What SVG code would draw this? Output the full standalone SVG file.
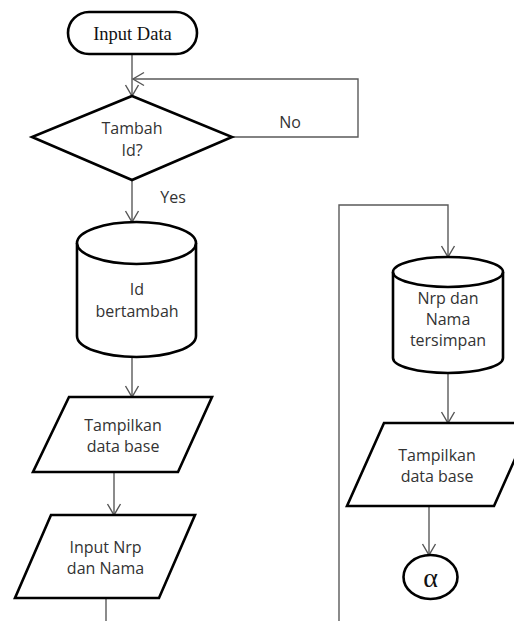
<svg xmlns="http://www.w3.org/2000/svg" width="514" height="621" viewBox="0 0 514 621">
  <defs>
    <marker id="arrow" markerUnits="userSpaceOnUse" markerWidth="16" markerHeight="16" viewBox="-12 -8 14 16" refX="0" refY="0" orient="auto">
      <path d="M-11,-6.5 L0,0 L-11,6.5" fill="none" stroke="#555" stroke-width="1.4"/>
    </marker>
    <style>
      .shape { fill: #fff; stroke: #000; stroke-width: 2.6; stroke-linejoin: miter; }
      .conn { fill: none; stroke: #5a5a5a; stroke-width: 1.4; }
      .lbl { font-family: "Open Sans", "Liberation Sans", sans-serif; font-size: 16px; fill: #333; text-anchor: middle; }
      .serif { font-family: "Liberation Serif", "Times New Roman", serif; fill: #111; text-anchor: middle; }
    </style>
  </defs>

  <rect width="514" height="621" fill="#fff"/>

  <!-- connectors -->
  <g id="connectors">
    <path class="conn" d="M132,54 L132,96" marker-end="url(#arrow)"/>
    <path class="conn" d="M232,137 L358,137 L358,79 L133,79" marker-end="url(#arrow)"/>
    <path class="conn" d="M132,180 L132,222" marker-end="url(#arrow)"/>
    <path class="conn" d="M132,357 L132,397" marker-end="url(#arrow)"/>
    <path class="conn" d="M114,472 L114,515" marker-end="url(#arrow)"/>
    <path class="conn" d="M106,598 L106,621"/>
    <path class="conn" d="M339,621 L339,205 L448,205 L448,257" marker-end="url(#arrow)"/>
    <path class="conn" d="M448,373 L448,423" marker-end="url(#arrow)"/>
    <path class="conn" d="M429,506 L429,555" marker-end="url(#arrow)"/>
    <text class="lbl" x="290" y="128">No</text>
    <text class="lbl" x="173" y="203">Yes</text>
  </g>

  <!-- start terminal -->
  <g id="input-data">
    <rect class="shape" x="68" y="12" width="129" height="42" rx="21" ry="21"/>
    <text class="serif" x="132.5" y="40" font-size="18.5">Input Data</text>
  </g>

  <!-- decision -->
  <g id="tambah-id">
    <polygon class="shape" points="132,96 232,137 132,180 32,137"/>
    <text class="lbl" x="132" y="134">Tambah</text>
    <text class="lbl" x="132" y="156">Id?</text>
  </g>

  <!-- storage: id incremented -->
  <g id="id-bertambah">
    <path class="shape" d="M77,243 L77,336 A59.5,21 0 0 0 196,336 L196,243"/>
    <ellipse class="shape" cx="136.5" cy="243" rx="59.5" ry="21"/>
    <text class="lbl" x="137" y="295">Id</text>
    <text class="lbl" x="137" y="317">bertambah</text>
  </g>

  <!-- display database -->
  <g id="tampilkan-1">
    <polygon class="shape" points="69,397 212,397 178,472 33,472"/>
    <text class="lbl" x="123" y="431">Tampilkan</text>
    <text class="lbl" x="123" y="452">data base</text>
  </g>

  <!-- input nrp and name -->
  <g id="input-nrp">
    <polygon class="shape" points="51,515 195,515 159,598 15,598"/>
    <text class="lbl" x="105.5" y="553">Input Nrp</text>
    <text class="lbl" x="105.5" y="574">dan Nama</text>
  </g>

  <!-- storage: saved record -->
  <g id="nrp-tersimpan">
    <path class="shape" d="M393,272 L393,358 A55,15 0 0 0 503,358 L503,272"/>
    <ellipse class="shape" cx="448" cy="272" rx="55" ry="15"/>
    <text class="lbl" x="448" y="304">Nrp dan</text>
    <text class="lbl" x="448" y="325">Nama</text>
    <text class="lbl" x="448" y="346">tersimpan</text>
  </g>

  <!-- display database (second) -->
  <g id="tampilkan-2">
    <polygon class="shape" points="384,423 531,423 494,506 347,506"/>
    <text class="lbl" x="437" y="461">Tampilkan</text>
    <text class="lbl" x="437" y="482">data base</text>
  </g>

  <!-- off-page connector -->
  <g id="alpha">
    <ellipse class="shape" cx="430.5" cy="577" rx="27" ry="22"/>
    <text class="serif" x="430.5" y="587" font-size="28">α</text>
  </g>
</svg>
